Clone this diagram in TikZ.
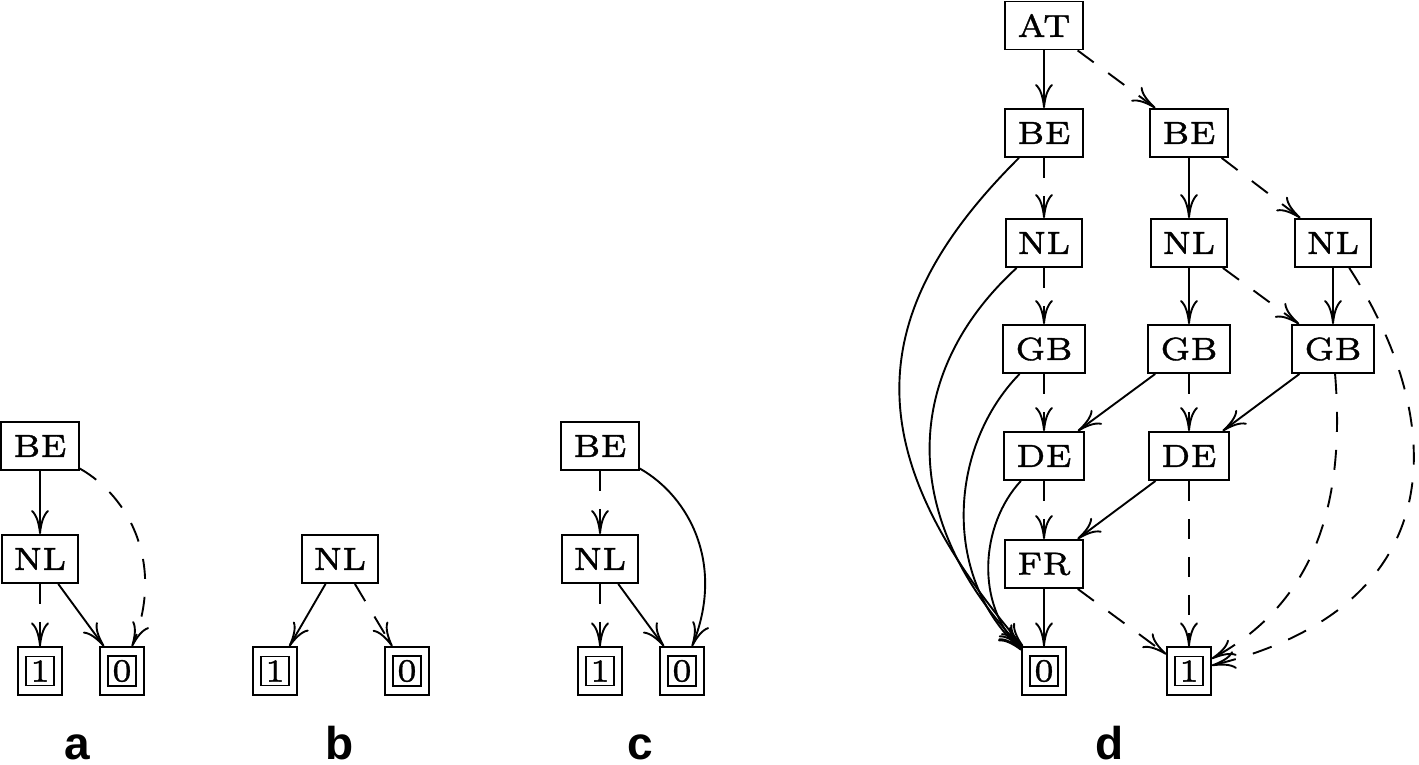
\documentclass[tikz,border=0pt]{standalone}
\usepackage{fontspec}
\newfontfamily\boxfont{lmroman6-regular.otf}[FakeBold=1.2]
\newfontfamily\labfont{Liberation Sans}
\usetikzlibrary{arrows.meta}
\newcommand\termbox[1]{{\setlength\fboxrule{1.8pt}\setlength\fboxsep{3pt}\fbox{\kern0.5pt#1\kern0.5pt}}}
\begin{document}
\begin{tikzpicture}[x=1pt,y=1pt,
  box/.style={draw, line width=1.9pt, minimum height=48pt, minimum width=76pt, inner xsep=12pt, inner ysep=0pt, font=\boxfont\fontsize{32}{34}\selectfont},
  term/.style={draw, line width=1.9pt, minimum width=43.2pt, minimum height=47.2pt, inner sep=0pt, font=\boxfont\fontsize{32}{34}\selectfont},
  arr/.style={line width=1.9pt, -{Computer Modern Rightarrow[length=24pt,width=18pt]}},
  hi/.style={arr},
  lo/.style={arr, dash pattern=on 20pt off 18pt},
  lab/.style={font=\labfont\bfseries\fontsize{46}{50}\selectfont, anchor=base, inner sep=0pt}
]
\useasboundingbox (0,0) rectangle (1419,765);
% a
\node[box] (aBE) at (40,319) {BE};
\node[box] (aNL) at (40,206) {NL};
\node[term] (a1) at (40,94) {\termbox{1}};
\node[term] (a0) at (122,94) {\termbox{0}};
\draw[hi] (aBE) -- (aNL);
\draw[lo] (aBE) .. controls (130,268) and (165,200) .. (a0);
\draw[lo] (aNL) -- (a1);
\draw[hi] (aNL) -- (a0);
% b
\node[box] (bNL) at (340,206) {NL};
\node[term] (b1) at (275,94) {\termbox{1}};
\node[term] (b0) at (407,94) {\termbox{0}};
\draw[hi] (bNL) -- (b1);
\draw[lo] (bNL) -- (b0);
% c
\node[box] (cBE) at (600,319) {BE};
\node[box] (cNL) at (600,206) {NL};
\node[term] (c1) at (600,94) {\termbox{1}};
\node[term] (c0) at (682,94) {\termbox{0}};
\draw[lo] (cBE) -- (cNL);
\draw[hi] (cBE) .. controls (690,268) and (725,200) .. (c0);
\draw[lo] (cNL) -- (c1);
\draw[hi] (cNL) -- (c0);
% d
\node[box] (AT) at (1044,739.5) {AT};
\node[box] (BEa) at (1044,632) {BE};
\node[box] (BEb) at (1189,632) {BE};
\node[box] (NLa) at (1044,522) {NL};
\node[box] (NLb) at (1189,522) {NL};
\node[box] (NLc) at (1333,522) {NL};
\node[box] (GBa) at (1044,416) {GB};
\node[box] (GBb) at (1189,416) {GB};
\node[box] (GBc) at (1333,416) {GB};
\node[box] (DEa) at (1044,309) {DE};
\node[box] (DEb) at (1189,309) {DE};
\node[box] (FR) at (1044,201) {FR};
\node[term] (d0) at (1044,94) {\termbox{0}};
\node[term] (d1) at (1189,94) {\termbox{1}};
\draw[hi] (AT) -- (BEa);
\draw[lo] (AT) -- (BEb);
\draw[lo] (BEa) -- (NLa);
\draw[hi] (BEa) .. controls (858,447) and (860,309) .. (d0);
\draw[hi] (BEb) -- (NLb);
\draw[lo] (BEb) -- (NLc);
\draw[lo] (NLa) -- (GBa);
\draw[hi] (NLa) .. controls (905,395) and (895,250) .. (d0);
\draw[hi] (NLb) -- (GBb);
\draw[lo] (NLb) -- (GBc);
\draw[hi] (NLc) -- (GBc);
\draw[lo] (NLc) .. controls (1445,350) and (1460,160) .. (d1);
\draw[lo] (GBa) -- (DEa);
\draw[hi] (GBa) .. controls (950,320) and (940,190) .. (d0);
\draw[hi] (GBb) -- (DEa);
\draw[lo] (GBb) -- (DEb);
\draw[hi] (GBc) -- (DEb);
\draw[lo] (GBc) .. controls (1345,270) and (1320,165) .. (d1);
\draw[lo] (DEa) -- (FR);
\draw[hi] (DEa) .. controls (980,240) and (975,160) .. (d0);
\draw[hi] (DEb) -- (FR);
\draw[lo] (DEb) -- (d1);
\draw[hi] (FR) -- (d0);
\draw[lo] (FR) -- (d1);
% labels
\node[lab] (la) at (77,5) {a};
\node[lab] (lb) at (340,5) {b};
\node[lab] (lc) at (640,5) {c};
\node[lab] (ld) at (1110,5) {d};
\end{tikzpicture}
\end{document}
